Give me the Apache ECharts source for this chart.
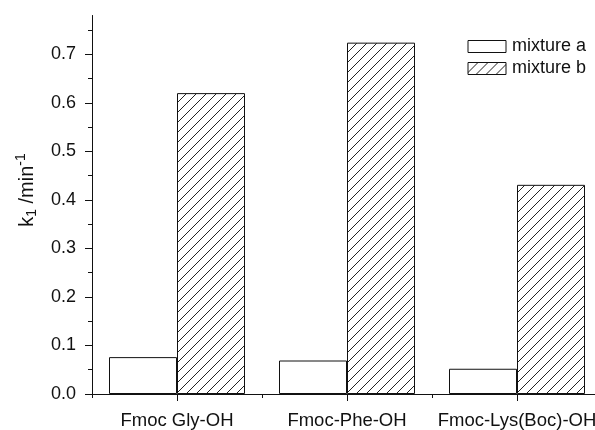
<!DOCTYPE html>
<html>
<head>
<meta charset="utf-8">
<script src="https://cdn.jsdelivr.net/npm/echarts@6/dist/echarts.min.js"></script>
<style>
  html, body { margin: 0; padding: 0; background: #fff; }
  #chart { width: 595px; height: 430px; }
</style>
</head>
<body>
<div id="chart"></div>
<script>
// Rate constants k1 (min^-1) per amino acid derivative
const categories = ['Fmoc Gly-OH', 'Fmoc-Phe-OH', 'Fmoc-Lys(Boc)-OH'];
const seriesNames = ['mixture a', 'mixture b'];
const mixtureA = [0.076, 0.069, 0.052];
const mixtureB = [0.620, 0.724, 0.431];

// y scale: axis line runs to yLineMax, ticks every 0.05 up to yMinorMax, labelled every 0.1 up to yMajorMax
const yLineMax = 0.78;
const yMinorMax = 0.75;
const yMajorMax = 0.7;
const yMinorStep = 0.05;
const yMajorStep = 0.1;

const FONT = "'Liberation Sans', Arial, Helvetica, sans-serif";
const INK = '#111';

// pixel layout (the last category runs past the right edge of the canvas)
const left = 92, plotWidth = 510, bottomY = 394, pxPerUnit = 485.3;
function gridFor(maxVal) {
  const h = maxVal * pxPerUnit;
  return {
    left: left, width: plotWidth, top: bottomY - h, height: h,
    containLabel: false, outerBoundsMode: 'none'
  };
}

// diagonal hatch fill
function hatchPattern() {
  const c = document.createElement('canvas');
  c.width = 10; c.height = 10;
  const g = c.getContext('2d');
  g.fillStyle = '#fff';
  g.fillRect(0, 0, 10, 10);
  g.strokeStyle = '#222';
  g.lineWidth = 1;
  g.beginPath();
  g.moveTo(-1, 11); g.lineTo(11, -1);
  g.moveTo(-1, 1); g.lineTo(1, -1);
  g.moveTo(9, 11); g.lineTo(11, 9);
  g.stroke();
  return { image: c, repeat: 'repeat' };
}

const chart = echarts.init(document.getElementById('chart'), null, { renderer: 'canvas' });

const hiddenX = (gridIndex) => ({ type: 'value', gridIndex: gridIndex, show: false, min: 0, max: 1 });

const option = {
  animation: false,
  backgroundColor: '#fff',
  textStyle: { fontFamily: FONT, color: INK },
  grid: [gridFor(yLineMax), gridFor(yMinorMax), gridFor(yMajorMax)],
  legend: {
    orient: 'vertical',
    left: 467.5,
    top: 37.5,
    padding: 0,
    itemWidth: 38,
    itemHeight: 12,
    itemGap: 4,
    icon: 'rect',
    data: seriesNames,
    itemStyle: { borderWidth: 1, borderColor: INK },
    textStyle: { fontFamily: FONT, fontSize: 18, color: INK, padding: [0, 0, 0, 1] }
  },
  xAxis: [
    {
      type: 'category',
      gridIndex: 0,
      position: 'bottom',
      data: categories,
      boundaryGap: true,
      axisLine: { show: true, lineStyle: { color: INK, width: 1 } },
      axisTick: { show: true, length: 4, lineStyle: { color: INK } },
      axisLabel: { show: true, margin: 17, fontFamily: FONT, fontSize: 18.5, color: INK, interval: 0, hideOverlap: false },
      splitLine: { show: false }
    },
    {
      type: 'category',
      gridIndex: 0,
      position: 'bottom',
      data: categories,
      boundaryGap: true,
      axisLine: { show: false },
      axisTick: { show: true, alignWithLabel: true, length: 7, lineStyle: { color: INK } },
      axisLabel: { show: false },
      splitLine: { show: false }
    },
    hiddenX(1),
    hiddenX(2)
  ],
  yAxis: [
    {
      type: 'value',
      gridIndex: 0,
      min: 0,
      max: yLineMax,
      axisLine: { show: true, lineStyle: { color: INK, width: 1 } },
      axisTick: { show: false },
      axisLabel: { show: false },
      splitLine: { show: false }
    },
    {
      type: 'value',
      gridIndex: 1,
      min: 0,
      max: yMinorMax,
      interval: yMinorStep,
      axisLine: { show: false },
      axisTick: { show: true, length: 4, lineStyle: { color: INK } },
      axisLabel: {
        show: true,
        margin: 16,
        fontFamily: FONT,
        fontSize: 18,
        color: INK,
        formatter: (v) => (Math.round(v * 100) % 10 === 0 ? v.toFixed(1) : '')
      },
      splitLine: { show: false }
    },
    {
      type: 'value',
      gridIndex: 2,
      min: 0,
      max: yMajorMax,
      interval: yMajorStep,
      axisLine: { show: false },
      axisTick: { show: true, length: 7, lineStyle: { color: INK } },
      axisLabel: { show: false },
      splitLine: { show: false }
    }
  ],
  series: [
    {
      name: seriesNames[0],
      type: 'bar',
      xAxisIndex: 0,
      yAxisIndex: 0,
      data: mixtureA,
      barWidth: 68,
      barGap: '0%',
      itemStyle: { color: '#fff', borderColor: INK, borderWidth: 1 }
    },
    {
      name: seriesNames[1],
      type: 'bar',
      xAxisIndex: 0,
      yAxisIndex: 0,
      data: mixtureB,
      barWidth: 68,
      barGap: '0%',
      itemStyle: { color: hatchPattern(), borderColor: INK, borderWidth: 1 }
    }
  ],
  graphic: [
    {
      type: 'text',
      x: 27,
      y: 190,
      rotation: Math.PI / 2,
      style: {
        text: '{m|k}{sub|1}{m| /min}{sup|-1}',
        align: 'center',
        verticalAlign: 'middle',
        fill: INK,
        rich: {
          m: { fontFamily: FONT, fontSize: 20, lineHeight: 25, fill: INK, verticalAlign: 'middle' },
          sub: { fontFamily: FONT, fontSize: 14, lineHeight: 14, fill: INK, verticalAlign: 'bottom' },
          sup: { fontFamily: FONT, fontSize: 14, lineHeight: 14, fill: INK, verticalAlign: 'top' }
        }
      }
    }
  ]
};

chart.setOption(option);
</script>
</body>
</html>
